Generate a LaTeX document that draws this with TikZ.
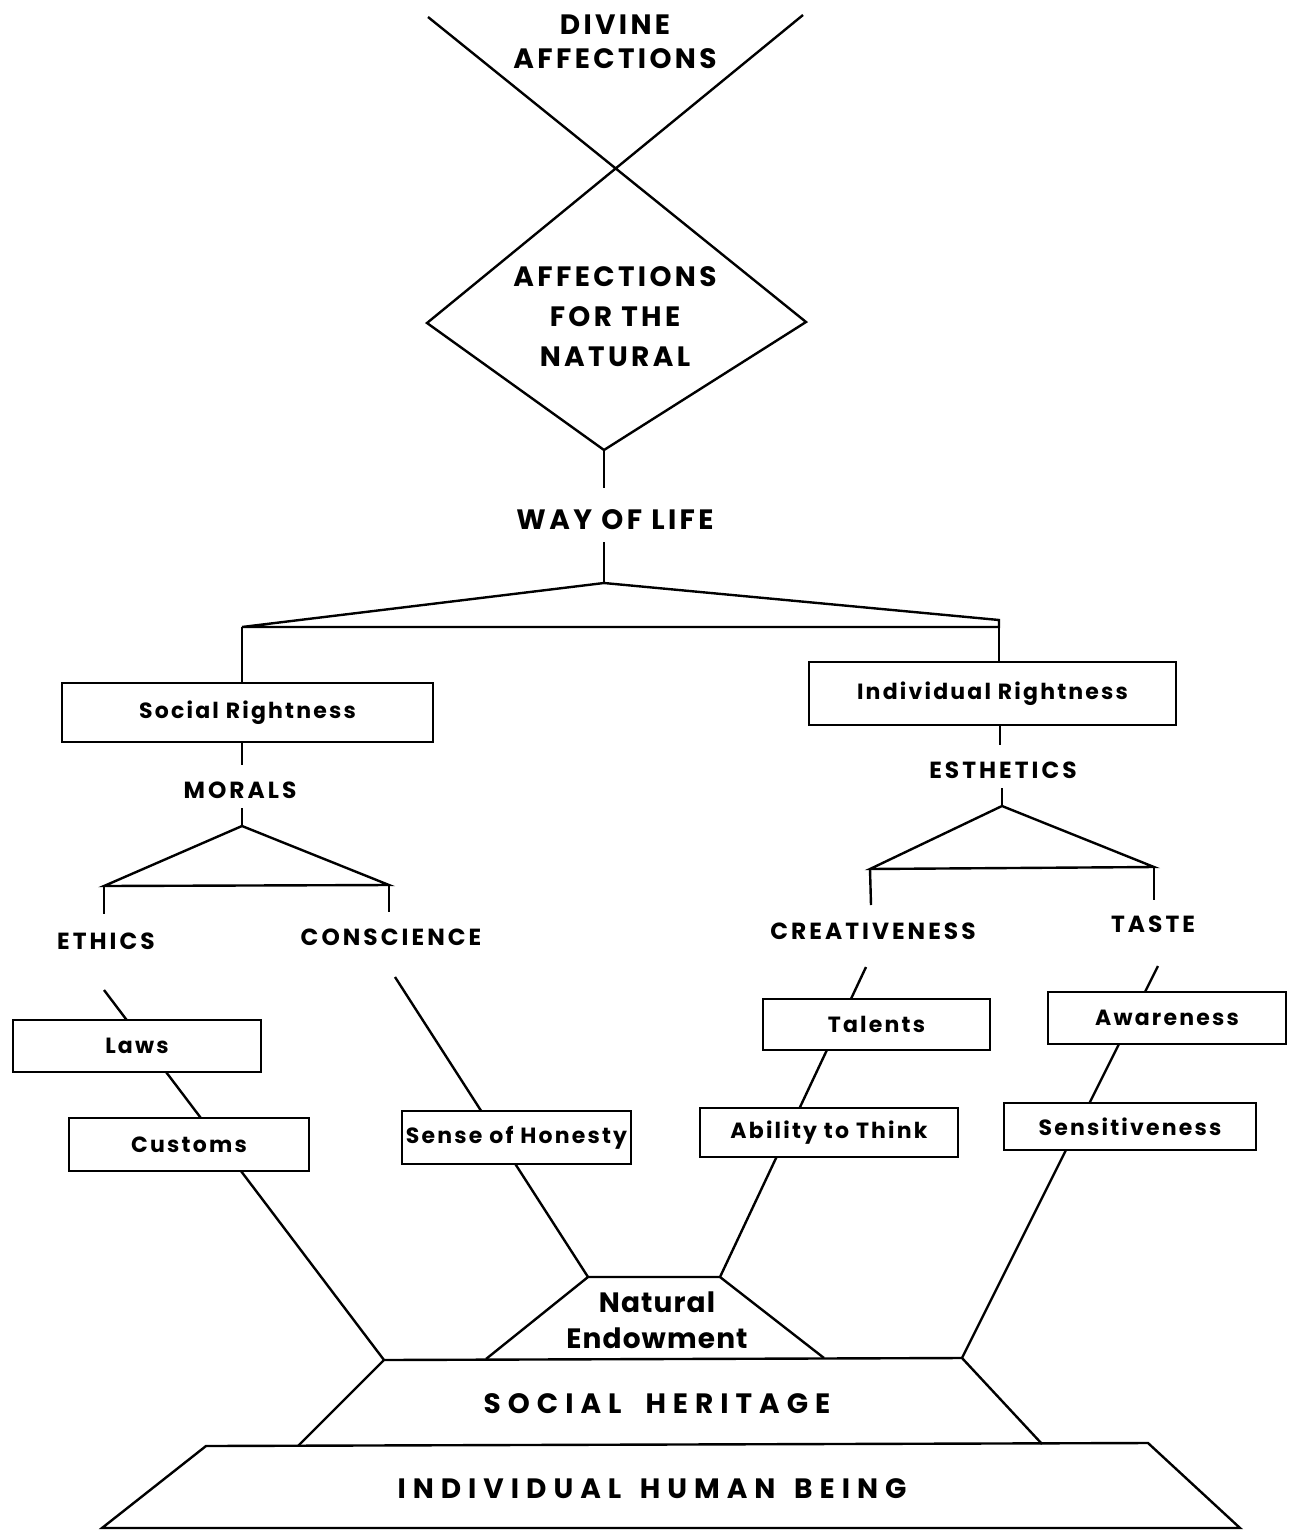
\documentclass[tikz,border=0pt]{standalone}
\usepackage{fontspec}
\setmainfont{Poppins}
\usetikzlibrary{positioning}

\tikzset{
  rule/.style={line width=1.8pt, line join=miter},
  bigcaps/.style={font=\bfseries\fontsize{21}{25.5}\selectfont\addfontfeatures{LetterSpace=12}, align=center, inner sep=0pt},
  caps/.style={font=\bfseries\fontsize{17.5}{20}\selectfont\addfontfeatures{LetterSpace=13}, inner sep=0pt},
  basecaps/.style={font=\bfseries\fontsize{21}{25}\selectfont\addfontfeatures{LetterSpace=25}, inner sep=0pt},
  slab/.style={draw, fill=white, line width=1.8pt, inner sep=0pt, font=\bfseries\fontsize{16.5}{19}\selectfont\addfontfeatures{LetterSpace=10}},
}

\begin{document}
\begin{tikzpicture}[x=0.75pt,y=0.75pt,yscale=-1,xscale=1]
	\useasboundingbox (0,0) rectangle (1289,1531);
	
	%Cross and diamond
	\coordinate (xl) at (428,17);
	\coordinate (xr) at (803,15);
	\coordinate (dl) at (427,323);
	\coordinate (dr) at (806,322);
	\coordinate (db) at (604,450);
	\draw[rule] (xl) -- (dr) -- (db) -- (dl) -- (xr);
	
	\node[bigcaps] (divine) at (615,42) {DIVINE\\AFFECTIONS};
	\node[bigcaps, font=\bfseries\fontsize{21}{30}\selectfont\addfontfeatures{LetterSpace=12}] (natural) at (615,317) {AFFECTIONS\\FOR THE\\NATURAL};
	
	%Way of life
	\node[bigcaps] (way) at (615,520) {WAY OF LIFE};
	\coordinate (wtop) at (604,488);
	\coordinate (wbot) at (604,542);
	\coordinate (wapex) at (604,583);
	\draw[rule] (db) -- (wtop);
	\draw[rule] (wbot) -- (wapex);
	
	%Top bracket
	\coordinate (sl) at (242,627);
	\coordinate (ir) at (999,620);
	\draw[rule] (sl) -- (wapex) -- (ir) -- (ir |- sl) -- cycle;
	
	\node[slab, minimum width=278pt, minimum height=44pt] (social) at (247.5,712.5) {Social Rightness};
	\node[slab, minimum width=275pt, minimum height=47pt] (indiv) at (992.5,693.5) {Individual Rightness};
	\draw[rule] (sl) -- (sl |- social.north);
	\draw[rule] (ir) -- (ir |- indiv.north);
	
	%Morals
	\node[caps] (morals) at (240,790) {MORALS};
	\coordinate (mtop) at (242,765);
	\coordinate (mbot) at (242,808);
	\coordinate (mapex) at (242,826);
	\coordinate (ethcorner) at (104,886);
	\coordinate (concorner) at (389,885);
	\coordinate (ethdrop) at (104,914);
	\coordinate (condrop) at (389,912);
	\draw[rule] (sl |- social.south) -- (mtop);
	\draw[rule] (mbot) -- (mapex);
	\draw[rule] (ethcorner) -- (mapex) -- (concorner) -- cycle;
	\draw[rule] (ethcorner) -- (ethdrop);
	\draw[rule] (concorner) -- (condrop);
	\node[caps] (ethics) at (106,941) {ETHICS};
	\node[caps] (conscience) at (391,937) {CONSCIENCE};
	
	%Esthetics
	\node[caps] (esthetics) at (1003,770) {ESTHETICS};
	\coordinate (etop) at (1000,745);
	\coordinate (ebot) at (1002,788);
	\coordinate (eapex) at (1002,806);
	\coordinate (crecorner) at (870,869);
	\coordinate (tascorner) at (1154,867);
	\coordinate (credrop) at (871,905);
	\coordinate (tasdrop) at (1154,900);
	\draw[rule] (indiv.south -| etop) -- (etop);
	\draw[rule] (ebot) -- (eapex);
	\draw[rule] (crecorner) -- (eapex) -- (tascorner) -- cycle;
	\draw[rule] (crecorner) -- (credrop);
	\draw[rule] (tascorner) -- (tasdrop);
	\node[caps] (creativeness) at (873,931) {CREATIVENESS};
	\node[caps] (taste) at (1153,924) {TASTE};
	
	%Base of the figure
	\coordinate (neTL) at (588,1277);
	\coordinate (neTR) at (720,1277);
	\coordinate (neBR) at (824,1358);
	\coordinate (neBL) at (486,1359);
	\coordinate (shTL) at (384,1360);
	\coordinate (shTR) at (962,1358);
	\coordinate (shBR) at (1042,1444);
	\coordinate (shBL) at (298,1446);
	\coordinate (ihTL) at (206,1446);
	\coordinate (ihTR) at (1148,1443);
	\coordinate (ihBR) at (1240,1528);
	\coordinate (ihBL) at (102,1528);
	\draw[rule] (neBL) -- (neTL) -- (neTR) -- (neBR);
	\draw[rule] (shBL) -- (shTL) -- (shTR) -- (shBR);
	\draw[rule] (ihTL) -- (ihTR) -- (ihBR) -- (ihBL) -- cycle;
	
	%Branch lines
	\coordinate (ethtail) at (104,990);
	\coordinate (contail) at (395,977);
	\coordinate (cretail) at (866,967);
	\coordinate (tastail) at (1158,966);
	\draw[rule] (ethtail) -- (shTL);
	\draw[rule] (contail) -- (neTL);
	\draw[rule] (cretail) -- (neTR);
	\draw[rule] (tastail) -- (shTR);
	
	\node[slab, minimum width=186pt, minimum height=39pt] (laws) at (137,1046) {Laws};
	\node[slab, minimum width=180pt, minimum height=40pt] (customs) at (189,1144.5) {Customs};
	\node[slab, minimum width=172pt, minimum height=40pt] (honesty) at (516.5,1137.5) {Sense of Honesty};
	\node[slab, minimum width=170pt, minimum height=38pt] (talents) at (876.5,1024.5) {Talents};
	\node[slab, minimum width=193.5pt, minimum height=37pt] (ability) at (829,1132.5) {Ability to Think};
	\node[slab, minimum width=178.5pt, minimum height=39pt] (awareness) at (1167,1018) {Awareness};
	\node[slab, minimum width=189pt, minimum height=35pt] (sensitive) at (1130,1126.5) {Sensitiveness};
	
	% Text Node
	\node[bigcaps, font=\bfseries\fontsize{21}{27}\selectfont\addfontfeatures{LetterSpace=4}] (endow) at (657,1320) {Natural\\Endowment};
	% Text Node
	\node[basecaps] (heritage) at (657,1404) {SOCIAL\hspace{18pt}HERITAGE};
	% Text Node
	\node[basecaps] (human) at (652,1489) {INDIVIDUAL\hspace{14pt}HUMAN\hspace{14pt}BEING};
\end{tikzpicture}
\end{document}
